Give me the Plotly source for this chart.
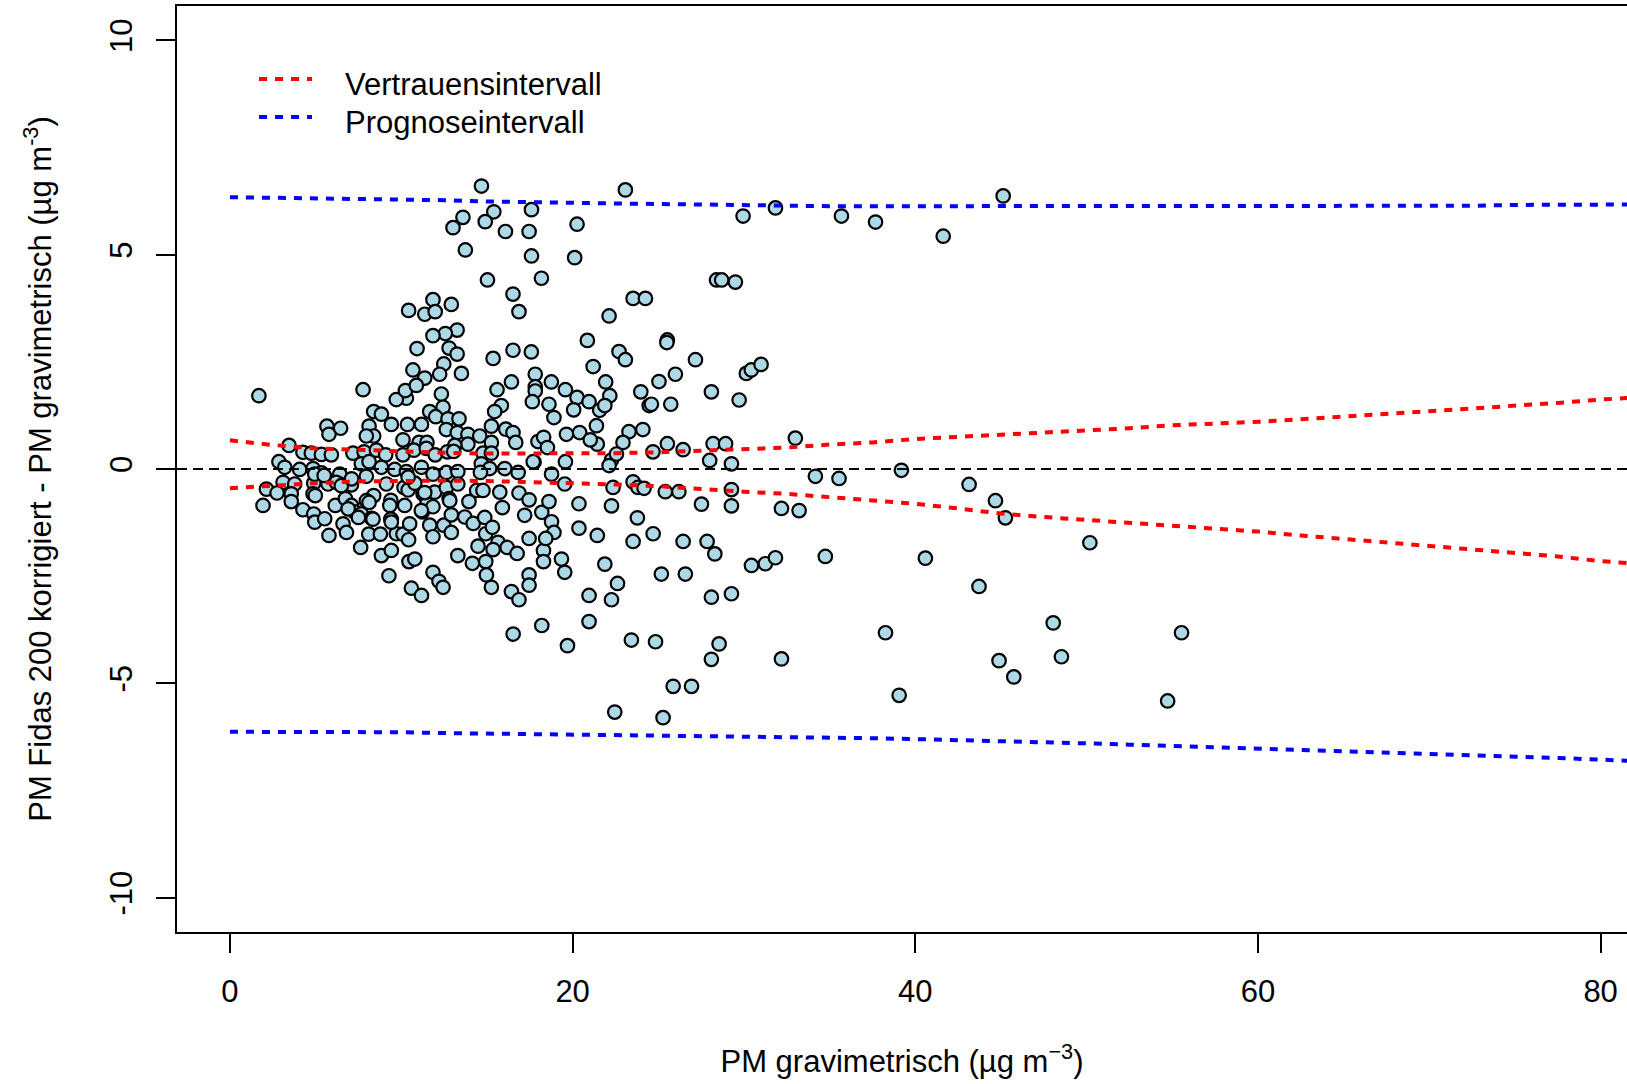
import plotly.graph_objects as go

# ---- data ----
# dense cluster, upper half
grav_a = [1.69, 7.77, 11.85, 12.92, 10.43, 11.37, 11.98, 16.52, 16.87, 22.13,
          13.26, 12.57, 11.85, 10.92, 12.79, 13.26, 15.36, 16.52, 17.59, 12.48,
          12.24, 10.68, 11.37, 13.51, 20.86, 21.20, 17.82, 18.76, 17.82, 17.82,
          16.43, 15.59, 15.84, 15.45, 17.65, 18.62, 18.91, 19.58, 20.26, 20.06,
          20.96, 21.58, 21.93, 22.17, 21.88, 21.39, 20.41, 19.64, 21.44, 21.03,
          12.34, 12.44, 10.30, 9.71, 10.24, 10.88, 8.39, 8.84, 8.12, 8.39,
          7.96, 9.42, 10.36, 11.18, 11.66, 12.01, 12.73, 13.37, 12.63, 13.27,
          13.89, 14.58, 15.26, 16.10, 16.52, 16.68, 17.98, 18.31, 18.53, 15.26,
          13.89, 13.12, 11.04, 11.50, 10.10, 5.66, 5.78, 6.46, 3.45, 4.26,
          4.75, 5.34, 5.92, 7.18, 7.83, 8.55, 9.09, 10.10, 10.74, 11.46,
          11.98, 12.69, 13.06, 14.77, 15.26, 17.75, 19.58, 22.27, 22.13, 2.86]
diff_a = [1.71, 1.85, 3.95, 3.84, 3.70, 3.61, 3.67, 4.08, 3.67, 3.57,
          3.24, 3.16, 3.11, 2.81, 2.82, 2.68, 2.58, 2.77, 2.73, 2.45,
          2.21, 2.31, 2.12, 2.23, 3.00, 2.39, 2.21, 2.03, 1.92, 1.82,
          2.03, 1.85, 1.48, 1.34, 1.57, 1.51, 1.20, 1.85, 1.67, 1.38,
          1.57, 1.37, 2.03, 1.71, 1.48, 1.01, 0.85, 0.81, 0.58, 0.68,
          1.75, 1.44, 1.65, 1.62, 1.83, 1.95, 1.34, 1.28, 1.00, 0.77,
          0.77, 1.04, 1.04, 1.04, 1.34, 1.22, 1.17, 1.17, 0.92, 0.85,
          0.81, 0.77, 1.00, 0.93, 0.85, 0.62, 0.64, 0.74, 0.50, 0.62,
          0.58, 0.55, 0.62, 0.62, 0.68, 1.00, 0.81, 0.95, 0.55, 0.39,
          0.37, 0.34, 0.33, 0.37, 0.40, 0.44, 0.33, 0.33, 0.44, 0.48,
          0.33, 0.40, 0.41, 0.37, 0.37, 0.16, 0.17, 0.21, 0.08, 0.17]

# dense cluster, around zero and below
grav_b = [3.20, 4.07, 4.85, 5.34, 6.41, 7.67, 8.12, 8.84, 9.62, 10.30,
          11.18, 11.85, 12.63, 13.30, 14.67, 15.16, 16.04, 16.82, 17.70, 18.77,
          14.62, 3.10, 3.78, 2.13, 2.75, 3.58, 4.89, 4.85, 4.98, 5.72,
          6.41, 7.09, 7.96, 8.39, 9.13, 10.16, 10.40, 10.79, 11.27, 11.95,
          12.63, 13.30, 14.40, 14.77, 15.75, 16.87, 17.46, 19.54, 22.36, 1.93,
          3.58, 4.26, 4.89, 4.95, 5.53, 5.78, 6.15, 6.74, 7.09, 7.28,
          7.67, 8.26, 6.60, 6.80, 7.63, 8.10, 8.78, 9.39, 9.42, 9.71,
          10.10, 10.20, 10.49, 10.43, 11.23, 11.50, 11.85, 11.66, 11.85, 12.48,
          12.92, 12.92, 12.79, 13.30, 13.95, 13.71, 14.20, 14.87, 14.93, 15.32,
          15.65, 16.18, 16.76, 15.90, 17.20, 17.46, 18.20, 18.30, 18.62, 18.77,
          18.91, 19.35, 20.37, 20.37, 21.44, 22.27, 21.88, 22.62, 9.28, 10.59,
          11.18, 11.85, 12.20, 12.44, 14.15, 14.93, 14.97, 15.26, 16.43, 16.87,
          17.46, 17.46, 19.54, 20.96, 22.27, 18.20, 20.96, 8.84, 9.42, 10.45,
          10.79, 9.39, 9.33, 7.96, 8.12, 6.20, 6.50, 7.10, 6.90, 7.50,
          8.35, 9.42, 10.40, 11.37, 11.17, 4.95, 5.50, 16.53, 18.30, 14.48,
          15.36, 18.43, 12.83]
diff_b = [0.04, -0.01, 0.01, -0.09, -0.12, 0.12, 0.17, 0.04, -0.01, -0.06,
          0.04, -0.12, -0.08, -0.06, 0.12, 0.01, 0.01, -0.08, 0.17, -0.12,
          -0.08, -0.31, -0.35, -0.47, -0.56, -0.58, -0.33, -0.58, -0.62, -0.35,
          -0.35, -0.37, -0.17, -0.62, -0.35, -0.43, -0.49, -0.33, -0.58, -0.54,
          -0.43, -0.35, -0.50, -0.50, -0.54, -0.56, -0.72, -0.35, -0.43, -0.85,
          -0.76, -0.95, -1.05, -1.24, -1.16, -1.55, -0.85, -0.69, -0.85, -1.00,
          -1.05, -1.15, -1.28, -1.48, -1.83, -1.52, -1.52, -0.73, -1.18, -1.51,
          -1.52, -0.85, -1.28, -1.65, -1.00, -0.81, -0.88, -1.31, -1.58, -1.31,
          -1.07, -1.48, -0.69, -2.02, -0.76, -1.12, -1.27, -1.13, -1.51, -1.36,
          -1.71, -1.83, -1.97, -0.90, -1.08, -1.62, -1.01, -1.90, -0.76, -1.23,
          -1.48, -2.10, -0.81, -1.38, -1.55, -0.86, -2.22, -2.67, -2.49, -2.78,
          -2.95, -2.41, -2.62, -2.76, -2.20, -2.16, -2.47, -2.76, -2.86, -3.05,
          -2.47, -2.71, -2.41, -2.95, -3.05, -3.65, -3.56, -2.02, -1.90, -2.16,
          -2.10, -1.17, -0.85, -0.74, -0.78, -0.31, -0.39, -0.23, -0.93, -1.13,
          -1.17, -1.24, -0.19, -0.55, -0.97, -0.12, -0.15, -3.85, -2.16, -1.80,
          -1.88, -1.62, -0.74]

# 20 - 31 µg/m3
grav_c = [23.08, 29.95, 20.26, 20.12, 28.40, 28.70, 29.50, 23.53, 24.25, 25.53,
          25.50, 22.71, 23.08, 27.17, 26.00, 25.04, 23.98, 24.47, 24.60, 25.73,
          28.10, 29.72, 30.14, 30.43, 31.00, 23.29, 24.10, 22.94, 24.69, 25.53,
          26.45, 28.20, 28.93, 28.00, 29.27, 22.56, 23.53, 23.82, 24.17, 25.41,
          26.20, 29.27, 27.52, 29.27, 23.78, 23.53, 24.70, 26.45, 27.85, 28.30,
          25.18, 26.58, 30.44, 31.25, 28.10, 29.27, 23.43, 24.84, 28.55, 28.10,
          19.70, 25.87, 26.94, 22.46, 25.28]
diff_c = [6.51, 5.90, 5.71, 4.93, 4.41, 4.41, 4.36, 3.98, 3.98, 3.01,
          2.95, 2.74, 2.55, 2.55, 2.21, 2.04, 1.80, 1.48, 1.51, 1.51,
          1.80, 1.61, 2.23, 2.31, 2.44, 0.87, 0.92, 0.62, 0.40, 0.59,
          0.45, 0.59, 0.59, 0.20, 0.12, 0.35, -0.30, -0.43, -0.45, -0.53,
          -0.53, -0.48, -0.82, -0.86, -1.14, -1.69, -1.51, -1.69, -1.69, -1.98,
          -2.45, -2.45, -2.25, -2.21, -2.99, -2.91, -3.99, -4.03, -4.08, -4.44,
          -4.12, -5.07, -5.07, -5.67, -5.80]

# upper outliers 13 - 18 µg/m3
grav_d = [14.68, 13.60, 13.02, 15.40, 14.90, 16.08, 17.60, 17.46, 17.60, 13.74, 15.03, 18.18]
diff_d = [6.60, 5.87, 5.63, 6.00, 5.77, 5.54, 6.05, 5.54, 4.97, 5.11, 4.41, 4.45]

# above 31 µg/m3
grav_e = [31.84, 35.69, 37.68, 41.63, 45.13, 33.00, 34.17, 35.55, 39.19, 43.14,
          44.68, 45.26, 50.19, 32.19, 33.22, 31.84, 34.75, 40.59, 43.72, 38.26,
          48.05, 55.54, 32.19, 44.89, 48.53, 45.75, 39.06, 54.73]
diff_e = [6.09, 5.90, 5.76, 5.43, 6.37, 0.72, -0.17, -0.22, -0.03, -0.36,
          -0.74, -1.14, -1.72, -0.92, -0.97, -2.07, -2.04, -2.08, -2.74, -3.82,
          -3.59, -3.82, -4.43, -4.47, -4.38, -4.85, -5.28, -5.41]

# interval curves
band_x = [0, 2.5, 5, 7.5, 10, 12.5, 15, 17.5, 20, 22.5, 25, 27.5, 30, 32.5, 35, 37.5, 40,
          42.5, 45, 47.5, 50, 52.5, 55, 57.5, 60, 62.5, 65, 67.5, 70, 72.5, 75, 77.5, 80, 82.5]
ci_upper = [0.67, 0.56, 0.48, 0.44, 0.41, 0.38, 0.36, 0.36, 0.36, 0.37, 0.39, 0.43, 0.47, 0.50,
            0.57, 0.62, 0.70, 0.76, 0.80, 0.85, 0.89, 0.95, 1.02, 1.05, 1.10, 1.16, 1.22, 1.28,
            1.35, 1.40, 1.47, 1.54, 1.62, 1.68]
ci_lower = [-0.45, -0.38, -0.33, -0.29, -0.27, -0.27, -0.28, -0.30, -0.33, -0.36, -0.40, -0.47,
            -0.53, -0.58, -0.66, -0.74, -0.81, -0.92, -1.04, -1.12, -1.19, -1.25, -1.31, -1.38,
            -1.46, -1.55, -1.63, -1.71, -1.80, -1.88, -1.96, -2.04, -2.15, -2.22]
pi_upper = [6.34, 6.33, 6.31, 6.30, 6.29, 6.27, 6.24, 6.22, 6.20, 6.18, 6.18, 6.17, 6.15, 6.14,
            6.13, 6.13, 6.13, 6.13, 6.13, 6.13, 6.12, 6.12, 6.12, 6.12, 6.12, 6.12, 6.13, 6.13,
            6.14, 6.14, 6.16, 6.16, 6.17, 6.17]
pi_lower = [-6.13, -6.13, -6.13, -6.14, -6.14, -6.16, -6.17, -6.18, -6.19, -6.20, -6.21, -6.22,
            -6.23, -6.24, -6.26, -6.28, -6.30, -6.32, -6.35, -6.38, -6.40, -6.43, -6.46, -6.48,
            -6.51, -6.54, -6.57, -6.60, -6.63, -6.67, -6.70, -6.74, -6.78, -6.82]

y_ticks = [-10, -5, 0, 5, 10]
y_tick_text = ["-10", "-5", "0", "5", "10"]
x_ticks = [0, 20, 40, 60, 80]
legend_labels = ["Vertrauensintervall", "Prognoseintervall"]

FONT = "Arial, Liberation Sans, Helvetica, sans-serif"
FS = 31
DOT = "8px,8px"

grav = grav_a + grav_b + grav_c + grav_d + grav_e
diff = diff_a + diff_b + diff_c + diff_d + diff_e

fig = go.Figure()
fig.add_trace(go.Scatter(
    x=grav, y=diff, mode="markers", showlegend=False,
    marker=dict(size=13.5, color="#ADD8E6", line=dict(color="black", width=2.2)),
))
for yv, col in [(ci_upper, "#FF0000"), (ci_lower, "#FF0000"), (pi_upper, "#0000FF"), (pi_lower, "#0000FF")]:
    fig.add_trace(go.Scatter(x=band_x, y=yv, mode="lines", showlegend=False,
                             line=dict(color=col, width=4, dash=DOT)))

# zero reference line across the whole plot
fig.add_shape(type="line", xref="paper", yref="y", x0=0, x1=1, y0=0, y1=0,
              line=dict(color="black", width=2, dash="10px,6px"), layer="above")

# manual legend
for i, (lab, col) in enumerate(zip(legend_labels, ["#FF0000", "#0000FF"])):
    yl = [0.9212, 0.8801][i]
    yt = [0.9147, 0.8737][i]
    fig.add_shape(type="line", xref="paper", yref="paper", x0=0.0566, x1=0.0931, y0=yl, y1=yl,
                  line=dict(color=col, width=4, dash=DOT))
    fig.add_annotation(xref="paper", yref="paper", x=0.1145, y=yt, text=lab, showarrow=False,
                       xanchor="left", yanchor="middle", font=dict(family=FONT, size=FS, color="black"))

fig.update_layout(
    width=1627, height=1084,
    margin=dict(l=177, r=0, t=6, b=152),
    paper_bgcolor="white", plot_bgcolor="white",
    font=dict(family=FONT, size=FS, color="black"),
    showlegend=False,
)
fig.update_xaxes(
    range=[-3.09, 81.54], tickvals=x_ticks, ticks="outside", ticklen=19, tickwidth=1.5,
    tickcolor="black", showline=True, linewidth=2, linecolor="black", mirror=True,
    showgrid=False, zeroline=False, tickfont=dict(size=FS), ticklabelstandoff=12,
    title=dict(text="PM gravimetrisch (µg m<sup>−3</sup>)", font=dict(size=FS), standoff=42),
)
fig.update_yaxes(
    range=[-10.8, 10.8], tickvals=y_ticks, ticktext=y_tick_text, tickangle=-90,
    ticks="outside", ticklen=19, tickwidth=1.5, tickcolor="black",
    showline=True, linewidth=2, linecolor="black", mirror=False,
    showgrid=False, zeroline=False, tickfont=dict(size=FS), ticklabelstandoff=12,
    title=dict(text="PM Fidas 200 korrigiert - PM gravimetrisch (µg m<sup>-3</sup>)",
               font=dict(size=FS), standoff=43),
)

fig.write_html("out.html")
